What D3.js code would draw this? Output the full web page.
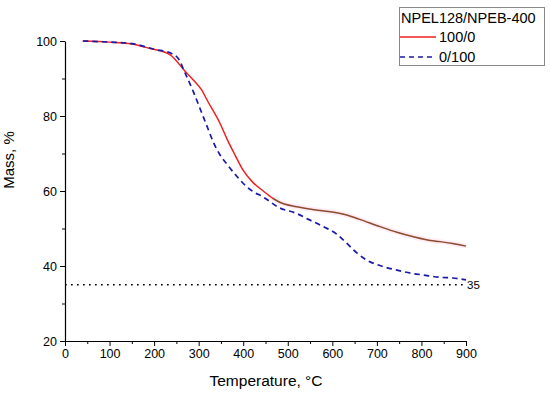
<!DOCTYPE html>
<html>
<head>
<meta charset="utf-8">
<script src="https://cdn.jsdelivr.net/npm/d3@7"></script>
<style>
  body { margin: 0; background: #fff; }
  text { font-family: Arial, "Liberation Sans", sans-serif; }
</style>
</head>
<body>
<div id="chart"></div>
<script>
// TGA curves, mass % vs temperature
const tempRed = [40, 100, 150, 191, 236, 269, 288, 307, 320, 348, 365, 382, 400, 420, 445, 467, 482, 520, 560, 600, 632, 660, 707, 745, 782, 820, 842, 870, 900];
const massRed = [100, 99.7, 99.2, 98.0, 96.3, 92, 89.6, 86.9, 84, 78, 73.5, 69.5, 65.5, 62.5, 60, 58, 57, 55.8, 55, 54.4, 53.6, 52.5, 50.5, 49, 47.8, 46.8, 46.5, 46, 45.3];

const tempBlue = [40, 100, 150, 200, 240, 255, 269, 288, 303, 318, 333, 348, 363, 385, 408, 450, 480, 520, 545, 580, 610, 632, 655, 677, 710, 745, 780, 804, 840, 870, 900];
const massBlue = [100, 99.7, 99.3, 97.8, 96.6, 95.2, 91.6, 86.5, 82, 77.5, 73, 69.6, 67.2, 64, 61.1, 58, 55.6, 54, 52.5, 50.5, 48.5, 46.1, 43.5, 41.6, 40, 38.9, 38, 37.6, 37, 36.8, 36.3];

const seriesNames = ["100/0", "0/100"];
const legendTitle = "NPEL128/NPEB-400";
const xTicks = [0, 100, 200, 300, 400, 500, 600, 700, 800, 900];
const yTicks = [20, 40, 60, 80, 100];
const refLevel = 35;

const width = 550, height = 394;

const x = d3.scaleLinear().domain([0, 900]).range([65, 466]);
const y = d3.scaleLinear().domain([20, 100]).range([341, 41]);

const svg = d3.select("#chart").append("svg")
    .attr("width", width)
    .attr("height", height);

const red = tempRed.map((t, i) => ({t, m: massRed[i]}));
const blue = tempBlue.map((t, i) => ({t, m: massBlue[i]}));

const line = d3.line()
    .x(d => x(d.t))
    .y(d => y(d.m))
    .curve(d3.curveMonotoneX);

// dotted reference line at 35 %
svg.append("line")
    .attr("x1", x(0)).attr("x2", x(900))
    .attr("y1", y(refLevel)).attr("y2", y(refLevel))
    .attr("stroke", "#000")
    .attr("stroke-width", 1.7)
    .attr("stroke-dasharray", "1.7,4.3");

svg.append("text")
    .attr("x", x(900) + 1)
    .attr("y", y(refLevel) + 4)
    .style("font-size", "11.5px")
    .text(refLevel);

// red curve, tail drawn brownish as in the source
svg.append("path")
    .datum(red)
    .attr("fill", "none")
    .attr("stroke", "#f02020")
    .attr("stroke-width", 1.5)
    .attr("d", line);

svg.append("path")
    .datum(red.filter(d => d.t >= 467))
    .attr("fill", "none")
    .attr("stroke", "#fdecf4")
    .attr("stroke-width", 5)
    .attr("d", line);

svg.append("path")
    .datum(red.filter(d => d.t >= 467))
    .attr("fill", "none")
    .attr("stroke", "#8e4a2c")
    .attr("stroke-width", 1.5)
    .attr("d", line);

svg.append("path")
    .datum(blue)
    .attr("fill", "none")
    .attr("stroke", "#1a1aa8")
    .attr("stroke-width", 1.7)
    .attr("stroke-dasharray", "5.5,4")
    .attr("d", line);

// axes: major ticks with labels, minor ticks without
svg.append("g")
    .attr("transform", `translate(0,${y(20)})`)
    .call(d3.axisBottom(x).tickValues(d3.range(50, 900, 100)).tickSize(3).tickFormat(""))
    .call(g => g.select(".domain").remove());

svg.append("g")
    .attr("transform", `translate(0,${y(20)})`)
    .call(d3.axisBottom(x).tickValues(xTicks).tickSize(5).tickSizeOuter(0).tickPadding(3))
    .call(g => g.select(".domain").attr("stroke-width", 1.2))
    .selectAll("text")
    .style("font-size", "12.5px")
    .style("font-family", "Arial, 'Liberation Sans', sans-serif");

svg.append("g")
    .attr("transform", `translate(${x(0)},0)`)
    .call(d3.axisLeft(y).tickValues([30, 50, 70, 90]).tickSize(3).tickFormat(""))
    .call(g => g.select(".domain").remove());

svg.append("g")
    .attr("transform", `translate(${x(0)},0)`)
    .call(d3.axisLeft(y).tickValues(yTicks).tickSize(5).tickSizeOuter(0).tickPadding(3))
    .call(g => g.select(".domain").attr("stroke-width", 1.2))
    .selectAll("text")
    .style("font-size", "12.5px")
    .style("font-family", "Arial, 'Liberation Sans', sans-serif");

// axis titles
svg.append("text")
    .attr("x", 266)
    .attr("y", 386)
    .attr("text-anchor", "middle")
    .style("font-size", "15.5px")
    .text("Temperature, °C");

svg.append("text")
    .attr("transform", "translate(14,160) rotate(-90)")
    .attr("text-anchor", "middle")
    .style("font-size", "15px")
    .text("Mass, %");

// legend
const legend = svg.append("g");
legend.append("rect")
    .attr("x", 399.5).attr("y", 7.5)
    .attr("width", 145).attr("height", 58)
    .attr("fill", "#fff")
    .attr("stroke", "#888");

legend.append("text")
    .attr("x", 401).attr("y", 23)
    .style("font-size", "14.5px")
    .text(legendTitle);

const legendStyles = [
  {color: "#f02020", dash: null},
  {color: "#1a1aa8", dash: "5,4"}
];

seriesNames.forEach((name, i) => {
  const yy = 37 + i * 20;
  legend.append("line")
      .attr("x1", 400).attr("x2", 436)
      .attr("y1", yy).attr("y2", yy)
      .attr("stroke", legendStyles[i].color)
      .attr("stroke-width", 1.6)
      .attr("stroke-dasharray", legendStyles[i].dash);
  legend.append("text")
      .attr("x", 439).attr("y", yy + 5)
      .style("font-size", "14.5px")
      .text(name);
});
</script>
</body>
</html>
